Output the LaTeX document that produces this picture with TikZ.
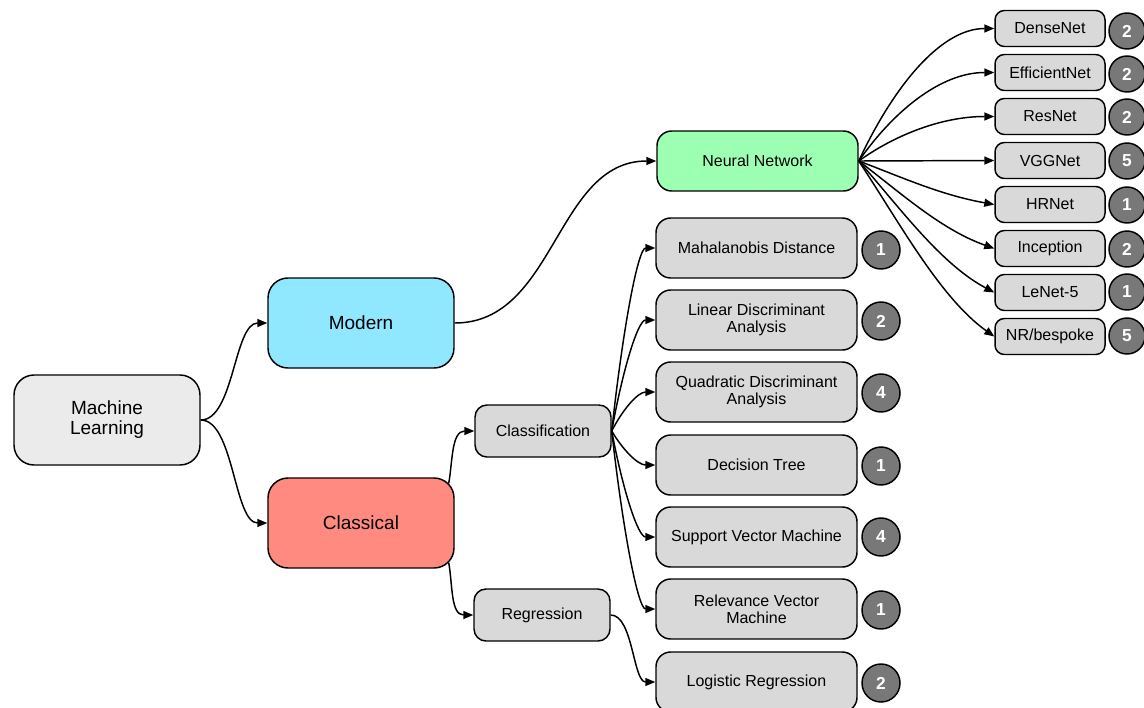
\documentclass[tikz,border=0pt]{standalone}
\usepackage{fontspec}
\setmainfont{Liberation Sans}
\usetikzlibrary{arrows.meta,calc}

\definecolor{rootgray}{RGB}{235,235,235}
\definecolor{leafgray}{RGB}{217,217,217}
\definecolor{moderncyan}{RGB}{143,232,255}
\definecolor{classicalred}{RGB}{255,138,128}
\definecolor{nngreen}{RGB}{156,255,178}
\definecolor{badgegray}{RGB}{120,120,120}

\begin{document}
\begin{tikzpicture}[x=0.75pt,y=0.75pt,
  box/.style={draw=black, line width=1.1pt, align=center, inner sep=0pt,
    font=\fontsize{12}{13}\selectfont},
  bigbox/.style={box, minimum width=139.5pt, minimum height=67.5pt,
    rounded corners=15pt, font=\fontsize{14.25}{15}\selectfont},
  midbox/.style={box, fill=leafgray, minimum width=102pt, minimum height=39pt,
    rounded corners=9pt},
  leafbox/.style={box, fill=leafgray, minimum width=150.75pt, minimum height=45pt,
    rounded corners=11pt},
  netbox/.style={box, fill=leafgray, minimum width=82.5pt, minimum height=27pt,
    rounded corners=7pt},
  badge/.style={circle, draw=black, line width=1.1pt, fill=badgegray, text=white,
    inner sep=0pt, minimum size=28.5pt, font=\bfseries\fontsize{13}{13}\selectfont},
  netbadge/.style={badge, minimum size=27pt},
  % S-shaped link, horizontal at both ends
  hcurve/.style={to path={let \p1=(\tikztostart), \p2=(\tikztotarget) in
    .. controls ($(\p1)+(0.5*\x2-0.5*\x1,0pt)$) and ($(\p2)-(0.5*\x2-0.5*\x1,0pt)$) .. (\p2) \tikztonodes}},
  % fan links: leave towards the target, settle into the target
  fanup/.style={to path={let \p1=(\tikztostart), \p2=(\tikztotarget) in
    .. controls ($(\p1)+(0.25*\x2-0.25*\x1,0.55*\y2-0.55*\y1)$) and ($(\p2)-(0.4*\x2-0.4*\x1,0pt)$) .. (\p2) \tikztonodes}},
  fandown/.style={to path={let \p1=(\tikztostart), \p2=(\tikztotarget) in
    .. controls ($(\p1)+(0.3*\x2-0.3*\x1,0.35*\y2-0.35*\y1)$) and ($(\p2)-(0.4*\x2-0.4*\x1,0.22*\y2-0.22*\y1)$) .. (\p2) \tikztonodes}},
  edge/.style={draw=black, line width=1.1pt, -{Triangle[length=7.5pt,width=6pt]}},
]
\useasboundingbox (0,0) rectangle (1144,-707);

% top levels
\node[bigbox, fill=rootgray] (ml) at (107,-420) {Machine\\Learning};
\node[bigbox, fill=moderncyan] (modern) at (361,-323) {Modern};
\node[bigbox, fill=classicalred] (classical) at (361,-523) {Classical};
\node[box, fill=nngreen, minimum width=150.75pt, minimum height=45pt,
  rounded corners=11pt] (nn) at (757.5,-161) {Neural Network};
\node[midbox] (cls) at (543,-431) {Classification};
\node[midbox] (reg) at (542,-615) {Regression};

% classical methods
\node[leafbox] (maha) at (756.5,-248) {Mahalanobis Distance};
\node[leafbox] (lda)  at (756.5,-320) {Linear Discriminant\\Analysis};
\node[leafbox] (qda)  at (756.5,-392) {Quadratic Discriminant\\Analysis};
\node[leafbox] (dt)   at (756.5,-465) {Decision Tree};
\node[leafbox] (svm)  at (756.5,-537) {Support Vector Machine};
\node[leafbox] (rvm)  at (756.5,-609) {Relevance Vector\\Machine};
\node[leafbox] (lr)   at (756.5,-682) {Logistic Regression};

\node[badge] (bmaha) at (881,-250) {1};
\node[badge] (blda)  at (881,-321) {2};
\node[badge] (bqda)  at (881,-393) {4};
\node[badge] (bdt)   at (881,-466) {1};
\node[badge] (bsvm)  at (881,-537) {4};
\node[badge] (brvm)  at (881,-610) {1};
\node[badge] (blr)   at (881,-683) {2};

% network architectures
\node[netbox] (dense) at (1050,-28.5) {DenseNet};
\node[netbox] (eff)   at (1050,-72.5) {EfficientNet};
\node[netbox] (res)   at (1050,-116.5) {ResNet};
\node[netbox] (vgg)   at (1050,-160.5) {VGGNet};
\node[netbox] (hr)    at (1050,-204.5) {HRNet};
\node[netbox] (inc)   at (1050,-248.5) {Inception};
\node[netbox] (lenet) at (1050,-292.5) {LeNet-5};
\node[netbox] (nr)    at (1050,-336.5) {NR/bespoke};

\node[netbadge] (bdense) at (1127,-31) {2};
\node[netbadge] (beff)   at (1127,-74) {2};
\node[netbadge] (bres)   at (1127,-117) {2};
\node[netbadge] (bvgg)   at (1127,-161) {5};
\node[netbadge] (bhr)    at (1127,-205) {1};
\node[netbadge] (binc)   at (1127,-249) {2};
\node[netbadge] (blenet) at (1127,-292) {1};
\node[netbadge] (bnr)    at (1127,-336) {5};

% connectors
\draw[edge, hcurve] (ml.east) to (modern.west);
\draw[edge, hcurve] (ml.east) to (classical.west);
\draw[edge, hcurve] (modern.east) to (nn.west);
\draw[edge] ($(classical.north east)+(-6,-6)$) to[out=80, in=180] (cls.west);
\draw[edge] ($(classical.south east)+(-6,6)$) to[out=-80, in=180] (reg.west);

\foreach \t in {maha,lda,qda,dt,svm,rvm}
  \draw[edge, fanup] (cls.east) to (\t.west);
\draw[edge, hcurve] (reg.east) to (lr.west);

\foreach \t in {dense,eff,res}
  \draw[edge, fanup] (nn.east) to (\t.west);
\draw[edge] (nn.east) -- (vgg.west);
\foreach \t in {hr,inc,lenet,nr}
  \draw[edge, fandown] (nn.east) to (\t.west);
\end{tikzpicture}
\end{document}
